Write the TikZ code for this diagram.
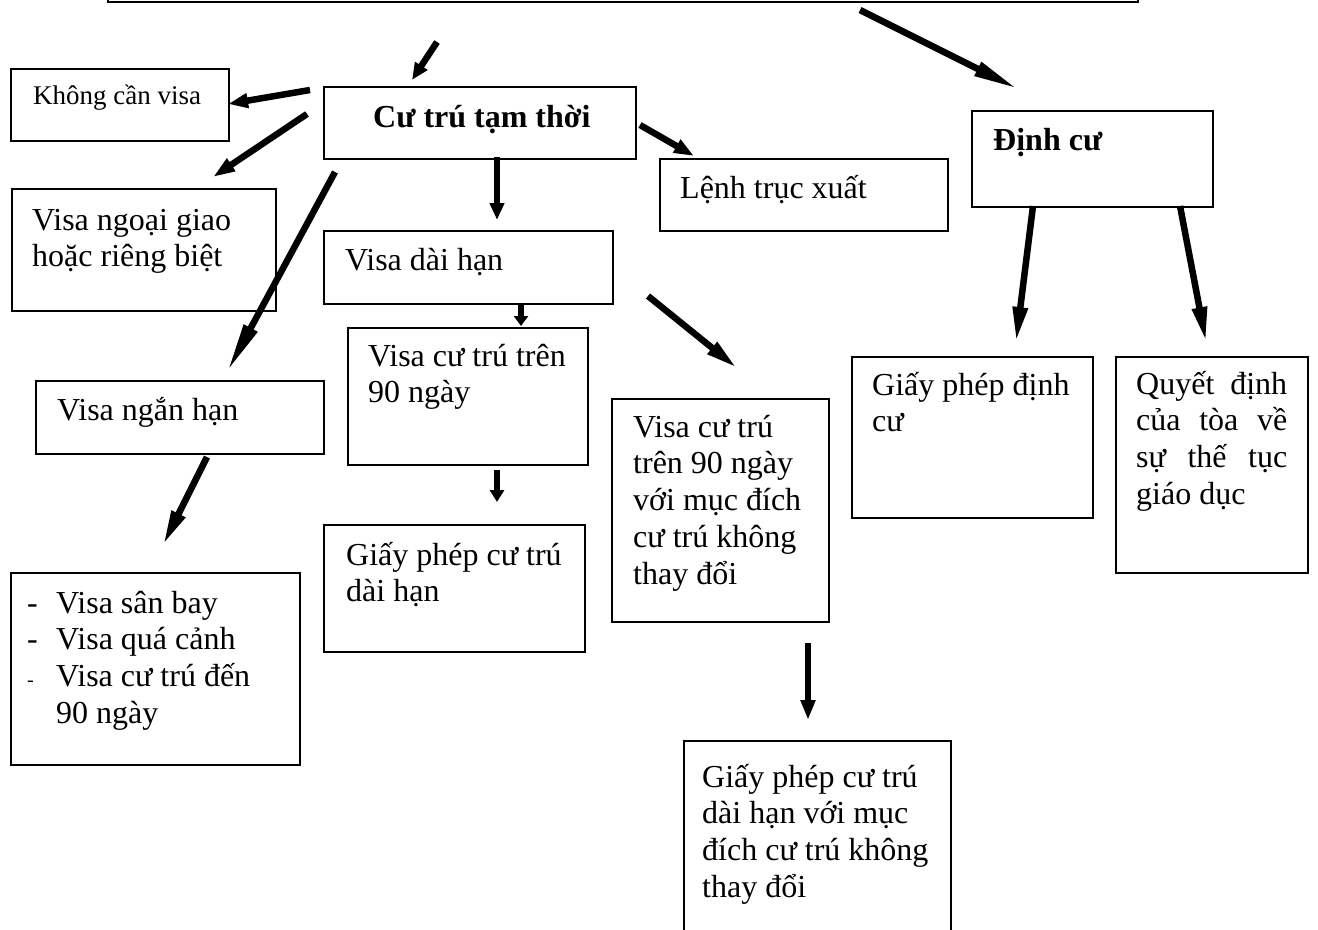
\documentclass[tikz,border=0pt]{standalone}
\usepackage{fontspec}
\setmainfont{Liberation Serif}
\usetikzlibrary{arrows.meta}
\newcommand{\mlines}[1]{\begin{tabular}[t]{@{}l@{}}#1\end{tabular}}
\begin{document}
\begin{tikzpicture}[x=1bp,y=-1bp,
  box/.style={draw, line width=1.6bp, anchor=north west, inner sep=0pt},
  txt/.style={anchor=base west, inner sep=0pt,
    font=\fontsize{32bp}{36.8bp}\selectfont},
  txtb/.style={txt, font=\fontsize{32bp}{36.8bp}\selectfont\bfseries},
  arr/.style={line width=6.5bp, -{Triangle[length=#1,width=14bp]}},
  arr/.default=20bp]
\useasboundingbox (0,0) rectangle (1318,929);
\fill[white] (0,0) rectangle (1318,929);
\clip (0,0) rectangle (1318,929);

% boxes
\node[box, anchor=south west, minimum width=1030bp, minimum height=60bp] (top) at (107,3) {};
\node[box, minimum width=218bp, minimum height=72bp] (b1) at (10,68) {};
\node[box, minimum width=312bp, minimum height=72bp] (b2) at (323,86) {};
\node[box, minimum width=264bp, minimum height=122bp] (b3) at (11,188) {};
\node[box, minimum width=288bp, minimum height=72bp] (b4) at (659,158) {};
\node[box, minimum width=241bp, minimum height=96bp] (b5) at (971,110) {};
\node[box, minimum width=289bp, minimum height=73bp] (b6) at (323,230) {};
\node[box, minimum width=240bp, minimum height=137bp] (b7) at (347,327) {};
\node[box, minimum width=288bp, minimum height=73bp] (b8) at (35,380) {};
\node[box, minimum width=217bp, minimum height=223bp] (b9) at (611,398) {};
\node[box, minimum width=241bp, minimum height=161bp] (b10) at (851,356) {};
\node[box, minimum width=192bp, minimum height=216bp] (b11) at (1115,356) {};
\node[box, minimum width=261bp, minimum height=127bp] (b12) at (323,524) {};
\node[box, minimum width=289bp, minimum height=192bp] (b13) at (10,572) {};
\node[box, minimum width=267bp, minimum height=240bp] (b14) at (683,740) {};

% texts
\node[txt, font=\fontsize{27bp}{31bp}\selectfont] (t1) at (33,104) {Không cần visa};
\node[txtb] (t2) at (373,127) {Cư trú tạm thời};
\node[txt] (t3) at (32,230) {\mlines{Visa ngoại giao\\hoặc riêng biệt}};
\node[txt] (t4) at (680,198) {Lệnh trục xuất};
\node[txtb] (t5) at (993,150) {Định cư};
\node[txt] (t6) at (345,270) {Visa dài hạn};
\node[txt] (t7) at (368,366) {\mlines{Visa cư trú trên\\90 ngày}};
\node[txt] (t8) at (57,420) {Visa ngắn hạn};
\node[txt] (t9) at (633,437) {\mlines{Visa cư trú\\trên 90 ngày\\với mục đích\\cư trú không\\thay đổi}};
\node[txt] (t10) at (872,395) {\mlines{Giấy phép định\\cư}};
\node[txt] (t11) at (1136,394) {\mlines{\makebox[151bp][s]{Quyết định}\\\makebox[151bp][s]{của tòa về}\\\makebox[151bp][s]{sự thế tục}\\giáo dục}};
\node[txt] (t12) at (346,565) {\mlines{Giấy phép cư trú\\dài hạn}};
\node[txt] (t13) at (27,613) {\mlines{\makebox[29bp][l]{-}Visa sân bay\\\makebox[29bp][l]{-}Visa quá cảnh\\\makebox[29bp][l]{\fontsize{20bp}{20bp}\selectfont -}Visa cư trú đến\\\hspace*{29bp}90 ngày}};
\node[txt] (t14) at (702,787) {\mlines{Giấy phép cư trú\\dài hạn với mục\\đích cư trú không\\thay đổi}};

% arrow end points
\coordinate (a1s) at (437,42);  \coordinate (a1e) at (412,80);
\coordinate (a2s) at (860,10);  \coordinate (a2e) at (1018,89);
\coordinate (a3s) at (310,90);  \coordinate (a3e) at (228,104);
\coordinate (a4s) at (307,114); \coordinate (a4e) at (213,177);
\coordinate (a5s) at (335,172); \coordinate (a5e) at (227,372);
\coordinate (a6s) at (497,157); \coordinate (a6e) at (497,220);
\coordinate (a7s) at (640,125); \coordinate (a7e) at (694,156);
\coordinate (a8s) at (521,303); \coordinate (a8e) at (521,326);
\coordinate (a9s) at (648,296); \coordinate (a9e) at (737,368);
\coordinate (a10s) at (497,470); \coordinate (a10e) at (497,502);
\coordinate (a11s) at (207,457); \coordinate (a11e) at (163,545);
\coordinate (a12s) at (1033,206); \coordinate (a12e) at (1016,342);
\coordinate (a13s) at (1180,206); \coordinate (a13e) at (1206,342);
\coordinate (a14s) at (808,643); \coordinate (a14e) at (808,720);

\draw[arr=17bp] (a1s) -- (a1e);
\draw[arr=45bp] (a2s) -- (a2e);
\draw[arr=20bp] (a3s) -- (a3e);
\draw[arr=22bp] (a4s) -- (a4e);
\draw[arr=50bp] (a5s) -- (a5e);
\draw[arr=17bp] (a6s) -- (a6e);
\draw[arr=20bp] (a7s) -- (a7e);
\draw[arr=10bp] (a8s) -- (a8e);
\draw[arr=32bp] (a9s) -- (a9e);
\draw[arr=12bp] (a10s) -- (a10e);
\draw[arr=35bp] (a11s) -- (a11e);
\draw[arr=35bp] (a12s) -- (a12e);
\draw[arr=35bp] (a13s) -- (a13e);
\draw[arr=20bp] (a14s) -- (a14e);
\end{tikzpicture}
\end{document}
